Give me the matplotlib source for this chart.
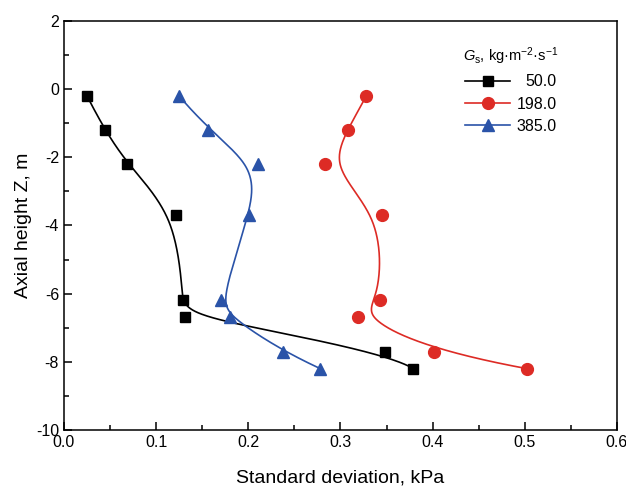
import numpy as np
import matplotlib
matplotlib.use("Agg")
import matplotlib.pyplot as plt
from matplotlib.ticker import MultipleLocator

plt.rcParams['font.family'] = ['Liberation Sans', 'DejaVu Sans']
plt.rcParams['mathtext.fontset'] = 'custom'
plt.rcParams['mathtext.rm'] = 'Liberation Sans'
plt.rcParams['mathtext.it'] = 'Liberation Sans:italic'
plt.rcParams['axes.unicode_minus'] = False

# axial heights of the measuring points
z = [-0.2, -1.2, -2.2, -3.7, -6.2, -6.7, -7.7, -8.2]

# standard deviation for each mass flux
sd_50 = [0.025, 0.044, 0.068, 0.121, 0.129, 0.131, 0.348, 0.379]
sd_198 = [0.328, 0.308, 0.283, 0.345, 0.343, 0.319, 0.402, 0.502]
sd_385 = [0.125, 0.156, 0.211, 0.201, 0.170, 0.180, 0.238, 0.278]

labels = ['50.0', '198.0', '385.0']
colors = ['black', '#dd2b25', '#2a53a8']
markers = ['s', 'o', '^']
msizes = [7.5, 8.5, 9]


def bspline(px, py, k=3, num=400):
    # clamped uniform B-spline using the points as control points
    n = len(px)
    t = np.concatenate([np.zeros(k), np.arange(n - k + 1), np.full(k, n - k)]).astype(float)
    u = np.linspace(0, n - k, num)
    u[-1] -= 1e-9
    B = np.zeros((num, len(t) - 1))
    for i in range(len(t) - 1):
        B[:, i] = (u >= t[i]) & (u < t[i + 1])
    for d in range(1, k + 1):
        Bn = np.zeros((num, len(t) - 1 - d))
        for i in range(len(t) - 1 - d):
            a = 0.0
            if t[i + d] > t[i]:
                a = (u - t[i]) / (t[i + d] - t[i]) * B[:, i]
            b = 0.0
            if t[i + d + 1] > t[i + 1]:
                b = (t[i + d + 1] - u) / (t[i + d + 1] - t[i + 1]) * B[:, i + 1]
            Bn[:, i] = a + b
        B = Bn
    return B @ np.asarray(px), B @ np.asarray(py)


fig = plt.figure(figsize=(6.26, 4.88), dpi=100)
ax = fig.add_axes([0.1022, 0.119, 0.8834, 0.838])

for sd, lab, c, m, ms in zip([sd_50, sd_198, sd_385], labels, colors, markers, msizes):
    cx, cy = bspline(sd, z)
    ax.plot(cx, cy, '-', color=c, lw=1.2, zorder=2)
    ax.plot(sd, z, m, color=c, ms=ms, mec=c, lw=1.2, zorder=3)
    ax.plot([], [], '-', marker=m, color=c, ms=ms, lw=1.2, label=lab)

ax.set_xlim(0, 0.6)
ax.set_ylim(-10, 2)
ax.xaxis.set_major_locator(MultipleLocator(0.1))
ax.xaxis.set_minor_locator(MultipleLocator(0.05))
ax.yaxis.set_major_locator(MultipleLocator(2))
ax.yaxis.set_minor_locator(MultipleLocator(1))
ax.xaxis.set_major_formatter(matplotlib.ticker.FormatStrFormatter('%.1f'))
ax.tick_params(which='both', direction='in', top=False, right=False, labelsize=11.5, width=1.1)
ax.tick_params(which='major', length=6)
ax.tick_params(which='minor', length=3.5)
for s in ax.spines.values():
    s.set_linewidth(1.1)

ax.set_xlabel('Standard deviation, kPa', fontsize=14, labelpad=14)
ax.set_ylabel('Axial height Z, m', fontsize=14, labelpad=3)

leg = ax.legend(title=r'$G_\mathrm{s}$, kg·m$^{\mathrm{-2}}$·s$^{\mathrm{-1}}$',
                loc='upper right', bbox_to_anchor=(0.92, 0.975), frameon=False,
                fontsize=11.5, title_fontsize=10.5, handlelength=2.8,
                handletextpad=0.4, labelspacing=0.45)

# right-align the legend numbers
fig.canvas.draw()
r = fig.canvas.get_renderer()
widths = [t.get_window_extent(r).width for t in leg.get_texts()]
w = max(widths)
for t, wi in zip(leg.get_texts(), widths):
    t.set_position((w - wi, 0))

fig.savefig('out.png', dpi=100)
